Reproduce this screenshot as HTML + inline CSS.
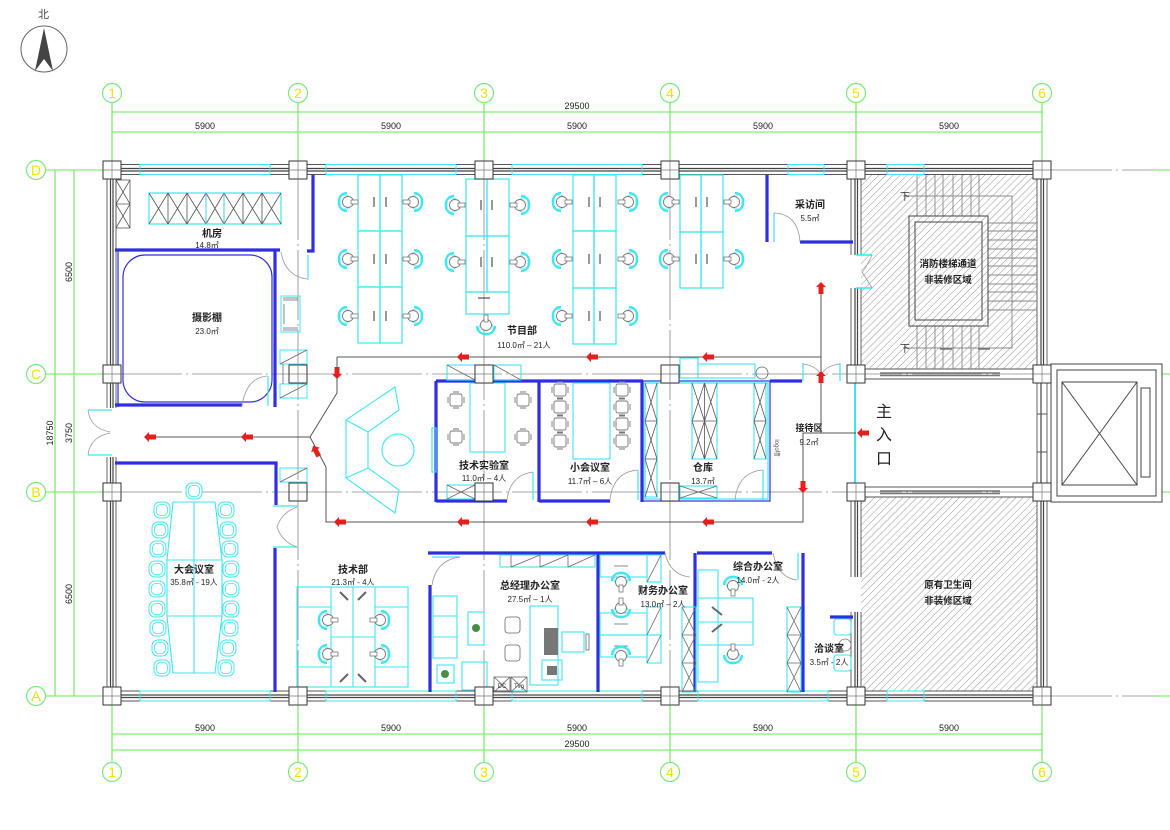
<!DOCTYPE html>
<html><head><meta charset="utf-8"><style>
html,body{margin:0;padding:0;background:#fff;}
svg{display:block;}
text{font-family:"Liberation Sans","Noto Sans CJK SC",sans-serif;}
.cj{font-family:"Liberation Sans","Noto Sans CJK SC",sans-serif;font-weight:bold;fill:#222;}
</style></head><body>
<svg width="1170" height="830" viewBox="0 0 1170 830" xmlns="http://www.w3.org/2000/svg">
<defs>
<pattern id="hatch" patternUnits="userSpaceOnUse" width="5" height="5" patternTransform="rotate(45)">
<line x1="0" y1="0" x2="0" y2="5" stroke="#8a8a8a" stroke-width="0.9"/>
</pattern>
<g id="chR">
<path d="M-3,-9 C-14,-9 -14,9 -3,9" fill="none" stroke="#3de6f0" stroke-width="2.2"/>
<rect x="-10" y="-7" width="9" height="14" rx="3" fill="none" stroke="#3de6f0" stroke-width="0.8"/>
<circle cx="-2" cy="0" r="5.5" fill="#fff" stroke="#777" stroke-width="0.9"/>
<rect x="1" y="-2" width="7" height="4" fill="#fff" stroke="#777" stroke-width="0.8"/>
</g>
<g id="chL" transform="scale(-1,1)"><use href="#chR"/></g>
<g id="chU" transform="rotate(-90)"><use href="#chR"/></g>
<g id="chD" transform="rotate(90)"><use href="#chR"/></g>
<g id="gch">
<rect x="-6" y="-6" width="12" height="12" rx="2" fill="#fff" stroke="#777" stroke-width="0.9"/>
<path d="M-8,-3v6M8,-3v6M-3,-8h6M-3,8h6" stroke="#777" stroke-width="0.9"/>
</g>
<g id="cch">
<rect x="-8" y="-8" width="16" height="16" rx="6" fill="#fff" stroke="#3de6f0" stroke-width="1"/>
<rect x="-5.5" y="-5.5" width="11" height="11" rx="4" fill="none" stroke="#3de6f0" stroke-width="0.8"/>
</g>
<polygon id="arL" points="-6,0 -1,-5 -1,-2.5 6,-2.5 6,2.5 -1,2.5 -1,5" fill="#e3201b"/>
</defs>

<!-- North arrow -->
<text x="38" y="18" font-size="11" fill="#444">北</text>
<circle cx="44" cy="49" r="23" fill="none" stroke="#666" stroke-width="1"/>
<polygon points="44,28 35,71 44,59 53,71" fill="#444"/>

<!-- Green grid / dimensions -->
<g stroke="#66e855" stroke-width="1.1" fill="none">
<line x1="112" y1="112" x2="1042" y2="112"/>
<line x1="112" y1="132" x2="1042" y2="132"/>
<line x1="112" y1="734" x2="1042" y2="734"/>
<line x1="112" y1="750" x2="1042" y2="750"/>
<line x1="55" y1="170" x2="55" y2="696"/>
<line x1="74" y1="170" x2="74" y2="696"/>
<path d="M112,103V161M298,103V161M484,103V161M670,103V161M856,103V161M1042,103V161"/>
<path d="M112,705V762M298,705V762M484,705V762M670,705V762M856,705V762M1042,705V762"/>
<path d="M46,170H103M46,374H103M46,492H103M46,696H103"/>
<path d="M1155,170H1170M1155,374H1170M1155,492H1170M1155,696H1170"/>
</g>
<g fill="none" stroke="#7de87d" stroke-width="1.2">
<circle cx="112" cy="93" r="9.5"/><circle cx="298" cy="93" r="9.5"/><circle cx="484" cy="93" r="9.5"/><circle cx="670" cy="93" r="9.5"/><circle cx="856" cy="93" r="9.5"/><circle cx="1042" cy="93" r="9.5"/>
<circle cx="112" cy="772" r="9.5"/><circle cx="298" cy="772" r="9.5"/><circle cx="484" cy="772" r="9.5"/><circle cx="670" cy="772" r="9.5"/><circle cx="856" cy="772" r="9.5"/><circle cx="1042" cy="772" r="9.5"/>
<circle cx="36" cy="170" r="9.5"/><circle cx="36" cy="374" r="9.5"/><circle cx="36" cy="492" r="9.5"/><circle cx="36" cy="696" r="9.5"/>
</g>
<g fill="#e6e600" font-size="14" text-anchor="middle">
<text x="112" y="98">1</text><text x="298" y="98">2</text><text x="484" y="98">3</text><text x="670" y="98">4</text><text x="856" y="98">5</text><text x="1042" y="98">6</text>
<text x="112" y="777">1</text><text x="298" y="777">2</text><text x="484" y="777">3</text><text x="670" y="777">4</text><text x="856" y="777">5</text><text x="1042" y="777">6</text>
<text x="36" y="175">D</text><text x="36" y="379">C</text><text x="36" y="497">B</text><text x="36" y="701">A</text>
</g>
<g fill="#222" font-size="9" text-anchor="middle">
<text x="577" y="109">29500</text>
<text x="205" y="129">5900</text><text x="391" y="129">5900</text><text x="577" y="129">5900</text><text x="763" y="129">5900</text><text x="949" y="129">5900</text>
<text x="205" y="731">5900</text><text x="391" y="731">5900</text><text x="577" y="731">5900</text><text x="763" y="731">5900</text><text x="949" y="731">5900</text>
<text x="577" y="747">29500</text>
<text transform="translate(72,272) rotate(-90)">6500</text>
<text transform="translate(72,433) rotate(-90)">3750</text>
<text transform="translate(72,594) rotate(-90)">6500</text>
<text transform="translate(53,433) rotate(-90)">18750</text>
</g>

<!-- Hatched areas -->
<rect x="861" y="175" width="176" height="194" fill="url(#hatch)"/>
<rect x="861" y="497" width="176" height="194" fill="url(#hatch)"/>

<!-- Gray grid axis lines inside -->
<g stroke="#888" stroke-width="0.8" stroke-dasharray="70,4,2,4" fill="none">
<line x1="298" y1="170" x2="298" y2="696"/>
<line x1="484" y1="170" x2="484" y2="696"/>
<line x1="670" y1="170" x2="670" y2="696"/>
<line x1="112" y1="374" x2="1155" y2="374"/>
<line x1="112" y1="492" x2="1155" y2="492"/>
<line x1="1042" y1="170" x2="1155" y2="170"/>
<line x1="1042" y1="696" x2="1155" y2="696"/>
</g>

<!-- Outer walls -->
<g stroke="#555" stroke-width="0.9" fill="none">
<!-- top -->
<path d="M121,164.5H289M307,164.5H475M493,164.5H661M679,164.5H847M865,164.5H1033"/>
<path d="M121,174.5H289M307,174.5H475M493,174.5H661M679,174.5H847M865,174.5H1033"/>
<path d="M121,168.5H289M307,168.5H475M493,168.5H661M679,168.5H847M865,168.5H1033" stroke="#444" stroke-width="1.2"/>
<path d="M121,171H289M307,171H475M493,171H661M679,171H847M865,171H1033" stroke="#444" stroke-width="1.2"/>
<!-- bottom -->
<path d="M121,691H289M307,691H475M493,691H661M679,691H847M865,691H1033"/>
<path d="M121,701H289M307,701H475M493,701H661M679,701H847M865,701H1033"/>
<path d="M121,695H289M307,695H475M493,695H661M679,695H847M865,695H1033" stroke="#444" stroke-width="1.2"/>
<path d="M121,697.5H289M307,697.5H475M493,697.5H661M679,697.5H847M865,697.5H1033" stroke="#444" stroke-width="1.2"/>
<!-- left -->
<path d="M107,179V365M107,383V408M107,457V483M107,501V687"/>
<path d="M116,179V365M116,383V408M116,457V483M116,501V687"/>
<path d="M110.5,179V365M110.5,383V408M110.5,457V483M110.5,501V687M113,179V365M113,383V408M113,457V483M113,501V687" stroke="#444" stroke-width="1.2"/>
<!-- right col6 -->
<path d="M1037,179V365M1037,383V483M1037,501V687M1047,179V365M1047,383V483M1047,501V687"/>
<path d="M1041,179V365M1041,383V483M1041,501V687M1043.5,179V365M1043.5,501V687" stroke="#444" stroke-width="1.2"/>
<path d="M1037,414H1047M1037,452H1047"/>
<!-- col5 -->
<path d="M851,179V255M851,288V365M861,179V255M861,288V365M851,501V577M851,612V687M861,501V577M861,612V687"/>
<path d="M855,179V255M855,288V365M857.5,179V255M857.5,288V365M855,501V577M855,612V687M857.5,501V577M857.5,612V687" stroke="#444" stroke-width="1.2"/>
<!-- elevator hall horizontal walls -->
<path d="M865,369H1033M865,379H1033M865,487H1033M865,497H1033"/>
<path d="M880,373H1000M880,375.5H1000M880,491H1000M880,493.5H1000" stroke="#777" stroke-width="1.5"/>
</g>
<!-- Windows -->
<g fill="none" stroke="#3de6f0" stroke-width="1">
<rect x="140" y="164.5" width="130" height="10"/><rect x="326" y="164.5" width="130" height="10"/><rect x="512" y="164.5" width="130" height="10"/><rect x="788" y="164.5" width="36" height="10"/><rect x="887" y="164.5" width="37" height="10"/>
<rect x="140" y="691" width="130" height="10"/><rect x="326" y="691" width="130" height="10"/><rect x="512" y="691" width="130" height="10"/><rect x="698" y="691" width="130" height="10"/><rect x="887" y="691" width="37" height="10"/>
<line x1="855" y1="383" x2="855" y2="483" stroke-width="2"/>
<line x1="856" y1="255" x2="872" y2="255" stroke-width="1.5"/>
<line x1="856" y1="288" x2="872" y2="288" stroke-width="1.5"/>
</g>
<path d="M872,255 Q866,268 862,272 Q866,278 872,288" fill="none" stroke="#999" stroke-width="0.8"/>

<!-- Elevator -->
<g fill="none" stroke="#444" stroke-width="1">
<rect x="1051" y="364" width="111" height="138" fill="#fff"/>
<rect x="1057" y="370" width="99" height="126"/>
<rect x="1062" y="382" width="75" height="103"/>
<path d="M1062,382L1137,485M1137,382L1062,485"/>
<rect x="1141" y="388" width="9" height="89"/>
</g>

<!-- Stair details -->
<g stroke="#888" stroke-width="0.9" fill="none">
<path d="M917,175V216M926,175V216M935,175V216M943,175V216M953,175V216M962,175V216M971,175V216M979,175V216"/>
<path d="M917,326V369M926,326V369M935,326V369M943,326V369M953,326V369M962,326V369M971,326V369M979,326V369"/>
<path d="M988,223H1037M988,231H1037M988,240H1037M988,249H1037M988,258H1037M988,266H1037M988,275H1037M988,284H1037M988,292H1037M988,301H1037M988,310H1037"/>
<path d="M903,196H1012V348H903"/>
<path d="M940,349h12M978,349h12" stroke="#777" stroke-width="1.5"/>
</g>
<g fill="none" stroke="#444" stroke-width="1">
<rect x="909" y="216" width="79" height="110"/>
<rect x="915" y="222" width="67" height="98"/>
</g>
<text x="905" y="200" font-size="10" fill="#333" text-anchor="middle">下</text>
<text x="905" y="352" font-size="10" fill="#333" text-anchor="middle">下</text>
<text x="948" y="267" font-size="9.5" class="cj" text-anchor="middle">消防楼梯通道</text>
<text x="948" y="283" font-size="9.5" class="cj" text-anchor="middle">非装修区域</text>
<text x="948" y="588" font-size="9.5" class="cj" text-anchor="middle">原有卫生间</text>
<text x="948" y="604" font-size="9.5" class="cj" text-anchor="middle">非装修区域</text>

<!-- Blue partition walls -->
<g stroke="#2f2fe0" stroke-width="3.2" fill="none">
<path d="M115,250H280"/>
<path d="M313,175V251H307"/>
<path d="M275,250V407"/>
<path d="M115,405H242"/>
<path d="M115,463H276V505"/>
<path d="M275,548V692"/>
<path d="M436,381H643"/>
<path d="M436,381V502"/>
<path d="M539,381V502"/>
<path d="M642,381V502"/>
<path d="M436,501H507M539,501H610"/>
<path d="M767,175V242"/>
<path d="M800,242H853"/>
<path d="M770,381H802"/>
<path d="M428,553H665M697,553H772"/>
<path d="M430,585V692"/>
<path d="M598,553V692"/>
<path d="M695,553V692"/>
<path d="M803,553V692"/>
<path d="M830,617H853"/>
</g>
<g stroke="#2f2fe0" stroke-width="1.2" fill="none">
<path d="M118,250V407"/>
<rect x="123" y="255" width="149" height="147" rx="22"/>
<rect x="643" y="381" width="127" height="120"/>
</g>
<g stroke="#3de6f0" stroke-width="1.2" fill="none">
<rect x="645" y="383" width="123" height="116"/>
<rect x="432" y="428" width="4" height="44"/>
<!-- door leaves -->
<path d="M308,255V280M268,376V406M88,410H112M88,455H112M273,506H297M273,547H297"/>
<path d="M774,213V242M803,363V381M840,363V381M533,472V500M638,470V500M763,470V500"/>
<path d="M432,557H460M798,553V580M855,383V483"/>
</g>
<!-- door arcs -->
<g stroke="#999" stroke-width="0.8" fill="none">
<path d="M281,252 Q285,276 307,279"/>
<path d="M242,406 Q246,378 267,376"/>
<path d="M88,410 Q90,428 110,432 M88,455 Q90,437 110,433"/>
<path d="M297,507 Q282,512 277,527 Q282,542 297,547"/>
<path d="M774,213 Q798,214 800,242"/>
<path d="M803,364 Q818,366 821,376 M840,364 Q824,366 821,376"/>
<path d="M507,500 Q510,475 533,472"/>
<path d="M610,500 Q613,472 638,470"/>
<path d="M735,500 Q738,472 763,470"/>
<path d="M432,585 Q436,560 460,557"/>
<path d="M665,553 Q670,575 690,577"/>
<path d="M773,553 Q778,578 797,580"/>
</g>

<!-- Server room cabinets -->
<g stroke="#555" stroke-width="0.8" fill="none">
<rect x="149" y="193" width="132" height="31" stroke="#3de6f0" stroke-width="1.2"/>
<path d="M168,193V224M187,193V224M206,193V224M224,193V224M243,193V224M262,193V224"/>
<path d="M149,193L168,224M168,193L149,224M168,193L187,224M187,193L168,224M187,193L206,224M206,193L187,224M206,193L224,224M224,193L206,224M224,193L243,224M243,193L224,224M243,193L262,224M262,193L243,224M262,193L281,224M281,193L262,224"/>
<rect x="206" y="193" width="18" height="31" stroke="#3de6f0"/>
<rect x="116" y="180" width="14" height="48"/>
<path d="M116,204H130M116,180L130,204M130,180L116,204M116,204L130,228M130,204L116,228"/>
</g>
<!-- studio side stuff -->
<g stroke="#3de6f0" stroke-width="1" fill="none">
<rect x="281" y="296" width="19" height="36"/>
<rect x="280" y="350" width="27" height="14"/><rect x="280" y="384" width="27" height="14"/>
<rect x="280" y="468" width="27" height="14"/>
</g>
<g stroke="#666" stroke-width="0.8" fill="none">
<path d="M283,298H298M283,300H298M283,328H298M283,330H298M284,304V324"/>
<path d="M280,364L307,350M280,398L307,384M280,482L307,468M283,364V384M303,364V384"/>
</g>

<!-- Program dept workstations -->
<g stroke="#3de6f0" stroke-width="1.2" fill="none">
<rect x="358" y="175" width="22" height="56"/><rect x="380" y="175" width="22" height="56"/>
<rect x="358" y="231" width="22" height="56"/><rect x="380" y="231" width="22" height="56"/>
<rect x="358" y="287" width="22" height="56"/><rect x="380" y="287" width="22" height="56"/>
<rect x="466" y="179" width="21" height="57"/><rect x="487" y="179" width="22" height="57"/>
<rect x="466" y="236" width="21" height="56"/><rect x="487" y="236" width="22" height="56"/>
<rect x="466" y="292" width="43" height="22"/>
<rect x="573" y="175" width="21" height="56"/><rect x="594" y="175" width="22" height="56"/>
<rect x="573" y="231" width="21" height="57"/><rect x="594" y="231" width="22" height="57"/>
<rect x="573" y="288" width="21" height="56"/><rect x="594" y="288" width="22" height="56"/>
<rect x="680" y="175" width="21" height="57"/><rect x="701" y="175" width="22" height="57"/>
<rect x="680" y="232" width="21" height="56"/><rect x="701" y="232" width="22" height="56"/>
</g>
<g stroke="#555" stroke-width="1.2">
<path d="M374,197v10M386,197v10M374,254v10M386,254v10M374,311v10M386,311v10"/>
<path d="M481,200v10M492,200v10M481,257v10M492,257v10M478,298h12"/>
<path d="M589,197v10M600,197v10M589,254v10M600,254v10M589,311v10M600,311v10"/>
<path d="M696,197v10M707,197v10M696,254v10M707,254v10"/>
</g>
<use href="#chR" x="350" y="202"/><use href="#chR" x="350" y="259"/><use href="#chR" x="350" y="316"/>
<use href="#chL" x="411" y="202"/><use href="#chL" x="411" y="259"/><use href="#chL" x="411" y="316"/>
<use href="#chR" x="457" y="205"/><use href="#chR" x="457" y="262"/>
<use href="#chL" x="518" y="205"/><use href="#chL" x="518" y="262"/>
<use href="#chU" x="486" y="323"/>
<use href="#chR" x="564" y="202"/><use href="#chR" x="564" y="259"/><use href="#chR" x="564" y="316"/>
<use href="#chL" x="626" y="202"/><use href="#chL" x="626" y="259"/><use href="#chL" x="626" y="316"/>
<use href="#chR" x="671" y="202"/><use href="#chR" x="671" y="259"/>
<use href="#chL" x="732" y="202"/><use href="#chL" x="732" y="259"/>

<!-- Reception sofa -->
<g stroke="#3de6f0" stroke-width="1.1" fill="none">
<path d="M395,387 L346,420 L346,478 L395,513 L399,490 L368,468 L368,432 L399,410 Z"/>
<path d="M346,420 L368,432 M346,478 L368,468"/>
<circle cx="398" cy="450" r="16"/>
</g>

<!-- Tech lab -->
<g stroke="#3de6f0" stroke-width="1.1" fill="none">
<rect x="447" y="365" width="28" height="15"/><rect x="494" y="365" width="27" height="15"/>
<rect x="447" y="485" width="28" height="14"/>
<rect x="470" y="383" width="35" height="69"/>
<rect x="573" y="383" width="37" height="76"/>
<rect x="680" y="358" width="18" height="20"/><rect x="698" y="364" width="57" height="14"/>
<rect x="680" y="486" width="37" height="12"/>
</g>
<g stroke="#666" stroke-width="0.8" fill="none">
<path d="M447,365L475,380M494,365L521,380M447,485L475,499M475,485L447,499M680,486L717,498M717,486L680,498"/>
<circle cx="762" cy="373" r="6"/>
</g>
<use href="#gch" x="456" y="400"/><use href="#gch" x="523" y="400"/><use href="#gch" x="456" y="437"/><use href="#gch" x="523" y="437"/>
<use href="#gch" x="560" y="390"/><use href="#gch" x="560" y="407"/><use href="#gch" x="560" y="424"/><use href="#gch" x="560" y="441"/>
<use href="#gch" x="622" y="390"/><use href="#gch" x="622" y="407"/><use href="#gch" x="622" y="424"/><use href="#gch" x="622" y="441"/>
<!-- storage cabinets -->
<g stroke="#555" stroke-width="0.8" fill="none">
<rect x="645" y="383" width="12" height="114" stroke="#3de6f0" stroke-width="1.1"/>
<path d="M645,421H657M645,459H657M645,383L657,421M657,383L645,421M645,421L657,459M657,421L645,459M645,459L657,497M657,459L645,497"/>
<rect x="692" y="383" width="25" height="76" stroke="#3de6f0" stroke-width="1.1"/>
<path d="M704.5,383V459M692,421H717M692,383L704.5,421M704.5,383L692,421M704.5,383L717,421M717,383L704.5,421M692,421L704.5,459M704.5,421L692,459M704.5,421L717,459M717,421L704.5,459"/>
<rect x="754" y="383" width="12" height="76" stroke="#3de6f0" stroke-width="1.1"/>
<path d="M754,421H766M754,383L766,421M766,383L754,421M754,421L766,459M766,421L754,459"/>
</g>
<text transform="translate(775,448) rotate(90)" font-size="6" fill="#555" text-anchor="middle">logo墙</text>

<!-- Big meeting room -->
<g stroke="#3de6f0" stroke-width="1.1" fill="none">
<path d="M173,502H215L222,560V616L215,673H173L167,616V560Z"/>
<path d="M194,502V673M167,560H222M167,616H222"/>
</g>
<use href="#cch" x="194" y="491"/>
<use href="#cch" x="162" y="510"/><use href="#cch" x="160" y="530"/><use href="#cch" x="158" y="549"/><use href="#cch" x="157" y="569"/><use href="#cch" x="157" y="589"/><use href="#cch" x="157" y="609"/><use href="#cch" x="158" y="628"/><use href="#cch" x="160" y="648"/><use href="#cch" x="162" y="668"/>
<use href="#cch" x="226" y="510"/><use href="#cch" x="228" y="530"/><use href="#cch" x="230" y="549"/><use href="#cch" x="231" y="569"/><use href="#cch" x="231" y="589"/><use href="#cch" x="231" y="609"/><use href="#cch" x="230" y="628"/><use href="#cch" x="228" y="648"/><use href="#cch" x="226" y="668"/>

<!-- Tech dept desks -->
<g stroke="#3de6f0" stroke-width="1.1" fill="none">
<rect x="297" y="587" width="111" height="100"/>
<path d="M331,587V687M375,587V687M353,587V687M331,637H375M297,607H331M375,607H408M297,667H331M375,667H408"/>
</g>
<g stroke="#666" stroke-width="2">
<path d="M340,592L348,600M366,592L358,600M340,682L348,674M366,682L358,674"/>
</g>
<use href="#chR" x="330" y="620"/><use href="#chL" x="378" y="620"/><use href="#chR" x="330" y="654"/><use href="#chL" x="378" y="654"/>

<!-- GM office -->
<g stroke="#3de6f0" stroke-width="1.1" fill="none">
<rect x="500" y="555" width="95" height="12"/>
<rect x="433" y="596" width="24" height="62"/><path d="M433,616H457M433,637H457"/>
<rect x="437" y="665" width="17" height="18"/>
<rect x="468" y="612" width="16" height="33"/>
<rect x="530" y="606" width="28" height="79"/>
<rect x="562" y="632" width="22" height="20"/>
<rect x="462" y="662" width="25" height="28"/>
<rect x="542" y="660" width="20" height="20"/>
</g>
<g stroke="#666" stroke-width="0.8" fill="none">
<path d="M511,555V567M540,555V567M568,555V567M511,567L540,555M540,567L568,555M568,567L595,555"/>
<rect x="494" y="677" width="16" height="15"/><rect x="511" y="677" width="16" height="15"/>
<path d="M494,677L510,692M510,677L494,692M511,677L527,692M527,677L511,692"/>
<rect x="505" y="617" width="15" height="16" rx="3"/><rect x="505" y="645" width="15" height="16" rx="3"/>
<rect x="586" y="634" width="3" height="16"/>
</g>
<rect x="544" y="628" width="14" height="27" fill="#777"/>
<rect x="547" y="666" width="10" height="9" fill="#777"/>
<circle cx="445" cy="674" r="4" fill="#4a8a4a"/>
<circle cx="476" cy="628" r="4" fill="#4a8a4a"/>
<text x="502" y="688" font-size="6" fill="#333" text-anchor="middle">DC</text>
<text x="519" y="688" font-size="6" fill="#333" text-anchor="middle">Tvg</text>

<!-- Finance office -->
<g stroke="#3de6f0" stroke-width="1.1" fill="none">
<rect x="600" y="555" width="47" height="22"/>
<rect x="600" y="613" width="47" height="22"/>
<rect x="600" y="635" width="47" height="22"/>
<rect x="647" y="555" width="14" height="27"/><rect x="647" y="607" width="14" height="28"/><rect x="647" y="635" width="14" height="28"/>
<rect x="682" y="607" width="14" height="85"/>
<rect x="787" y="607" width="14" height="85"/>
</g>
<g stroke="#666" stroke-width="0.8" fill="none">
<path d="M647,582L661,555M647,635L661,607M647,663L661,635M614,566h14M614,624h14M614,646h14"/>
<path d="M682,635H696M682,663H696M682,607L696,635M696,607L682,635M682,635L696,663M696,635L682,663M682,663L696,692M696,663L682,692"/>
<path d="M787,635H801M787,663H801M787,607L801,635M801,607L787,635M787,635L801,663M801,635L787,663M787,663L801,692M801,663L787,692"/>
</g>
<use href="#chD" x="621" y="584"/><use href="#chU" x="621" y="606"/><use href="#chD" x="621" y="658"/>

<!-- General office -->
<g stroke="#3de6f0" stroke-width="1.1" fill="none">
<rect x="698" y="570" width="20" height="112"/>
<rect x="698" y="598" width="55" height="47"/>
<path d="M698,622H753"/>
</g>
<g stroke="#666" stroke-width="2"><path d="M712,607L722,615M712,632L722,624"/></g>
<use href="#chD" x="733" y="588"/><use href="#chU" x="733" y="652"/>

<!-- Negotiation room -->
<g stroke="#3de6f0" stroke-width="1.1" fill="none">
<rect x="834" y="619" width="17" height="16" rx="3"/>
<rect x="834" y="655" width="17" height="16" rx="3"/>
</g>
<circle cx="845" cy="645" r="6" fill="none" stroke="#777" stroke-width="0.8"/>

<!-- Evacuation paths -->
<g stroke="#555" stroke-width="1" fill="none">
<path d="M150,437H310"/>
<path d="M337,357V393L310,437L326,467V522H803V433H856"/>
<path d="M337,357H821"/>
<path d="M821,285V433"/>
</g>
<use href="#arL" x="150" y="437"/><use href="#arL" x="247" y="437"/>
<use href="#arL" x="463" y="357"/><use href="#arL" x="592" y="357"/><use href="#arL" x="708" y="357"/>
<use href="#arL" x="340" y="522"/><use href="#arL" x="463" y="522"/><use href="#arL" x="592" y="522"/><use href="#arL" x="708" y="522"/>
<use href="#arL" x="863" y="433"/>
<use href="#arL" transform="translate(337,373) rotate(-90)"/>
<use href="#arL" transform="translate(803,487) rotate(-90)"/>
<use href="#arL" transform="translate(821,288) rotate(90)"/>
<use href="#arL" transform="translate(821,377) rotate(90)"/>
<use href="#arL" transform="translate(316,451) rotate(62)"/>

<!-- Columns -->
<g fill="#fff" stroke="#333" stroke-width="1">
<rect x="103" y="161" width="18" height="18"/><rect x="289" y="161" width="18" height="18"/><rect x="475" y="161" width="18" height="18"/><rect x="661" y="161" width="18" height="18"/><rect x="847" y="161" width="18" height="18"/><rect x="1033" y="161" width="18" height="18"/>
<rect x="103" y="365" width="18" height="18"/><rect x="289" y="365" width="18" height="18"/><rect x="475" y="365" width="18" height="18"/><rect x="661" y="365" width="18" height="18"/><rect x="847" y="365" width="18" height="18"/><rect x="1033" y="365" width="18" height="18"/>
<rect x="103" y="483" width="18" height="18"/><rect x="289" y="483" width="18" height="18"/><rect x="475" y="483" width="18" height="18"/><rect x="661" y="483" width="18" height="18"/><rect x="847" y="483" width="18" height="18"/><rect x="1033" y="483" width="18" height="18"/>
<rect x="103" y="687" width="18" height="18"/><rect x="289" y="687" width="18" height="18"/><rect x="475" y="687" width="18" height="18"/><rect x="661" y="687" width="18" height="18"/><rect x="847" y="687" width="18" height="18"/><rect x="1033" y="687" width="18" height="18"/>
</g>
<g stroke="#777" stroke-width="0.7">
<path d="M112,161V179M298,161V179M484,161V179M670,161V179M856,161V179M1042,161V179M112,365V383M298,365V383M484,365V383M670,365V383M856,365V383M1042,365V383M112,483V501M298,483V501M484,483V501M670,483V501M856,483V501M1042,483V501M112,687V705M298,687V705M484,687V705M670,687V705M856,687V705M1042,687V705"/>
<path d="M103,170H121M289,170H307M475,170H493M661,170H679M847,170H865M1033,170H1051M103,374H121M289,374H307M475,374H493M661,374H679M847,374H865M1033,374H1051M103,492H121M289,492H307M475,492H493M661,492H679M847,492H865M1033,492H1051M103,696H121M289,696H307M475,696H493M661,696H679M847,696H865M1033,696H1051"/>
</g>

<!-- Room labels -->
<g class="cj" text-anchor="middle">
<text x="212" y="237" font-size="10">机房</text>
<text x="207" y="321" font-size="10">摄影棚</text>
<text x="522" y="334" font-size="10">节目部</text>
<text x="810" y="208" font-size="10">采访间</text>
<text x="484" y="469" font-size="10">技术实验室</text>
<text x="590" y="471" font-size="10">小会议室</text>
<text x="703" y="471" font-size="10">仓库</text>
<text x="809" y="431" font-size="9">接待区</text>
<text x="194" y="573" font-size="10">大会议室</text>
<text x="353" y="573" font-size="10">技术部</text>
<text x="530" y="589" font-size="10">总经理办公室</text>
<text x="663" y="594" font-size="10">财务办公室</text>
<text x="758" y="570" font-size="10">综合办公室</text>
<text x="829" y="652" font-size="10">洽谈室</text>
</g>
<g fill="#222" font-size="8" text-anchor="middle" font-family="Liberation Sans, Noto Sans CJK SC, sans-serif">
<text x="207" y="248">14.8㎡</text>
<text x="207" y="334">23.0㎡</text>
<text x="524" y="348">110.0㎡ – 21人</text>
<text x="810" y="221">5.5㎡</text>
<text x="484" y="481">11.0㎡ – 4人</text>
<text x="590" y="484">11.7㎡ – 6人</text>
<text x="703" y="484">13.7㎡</text>
<text x="809" y="445">9.2㎡</text>
<text x="194" y="585">35.8㎡ - 19人</text>
<text x="353" y="585">21.3㎡ - 4人</text>
<text x="530" y="602">27.5㎡ – 1人</text>
<text x="663" y="607">13.0㎡ – 2人</text>
<text x="758" y="583">14.0㎡ - 2人</text>
<text x="829" y="665">3.5㎡ - 2人</text>
</g>
<g fill="#222" font-size="16" text-anchor="middle" font-family="Liberation Sans, Noto Sans CJK SC, sans-serif">
<text x="884" y="417">主</text>
<text x="884" y="440">入</text>
<text x="884" y="464">口</text>
</g>
</svg>
</body></html>
